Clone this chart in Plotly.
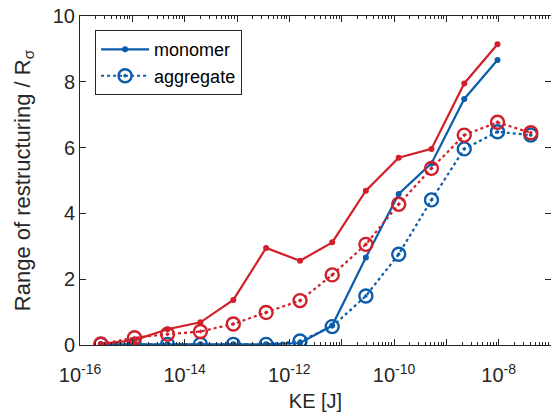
import plotly.graph_objects as go

ke = [2.5e-16, 1.1e-15, 4.7e-15, 2.0e-14, 8.5e-14, 3.6e-13, 1.6e-12,
      6.6e-12, 2.9e-11, 1.23e-10, 5.2e-10, 2.2e-9, 9.5e-9, 4.1e-8]

mono_blue = [0.02, 0.02, 0.02, 0.02, 0.02, 0.02, 0.06, 0.59, 2.66, 4.59, 5.52, 7.48, 8.66]
mono_red = [0.03, 0.15, 0.48, 0.69, 1.37, 2.95, 2.56, 3.12, 4.69, 5.69, 5.96, 7.95, 9.14]
agg_blue = [0.02, 0.02, 0.02, 0.02, 0.02, 0.02, 0.12, 0.56, 1.49, 2.76, 4.41, 5.96, 6.48, 6.38]
agg_red = [0.03, 0.22, 0.33, 0.41, 0.64, 0.99, 1.35, 2.13, 3.06, 4.28, 5.37, 6.38, 6.77, 6.45]

decades = list(range(-16, -6))
tick_vals = [10.0 ** d for d in decades]
tick_text = [f"10<sup>{d}</sup>" if d % 2 == 0 and d <= -8 else "" for d in decades]
minor_vals = [m * 10.0 ** d for d in decades[:-1] for m in range(2, 10)]

BLUE = "#0B5DAB"
RED = "#D1202A"
TXT = "#262626"

fig = go.Figure()
fig.add_trace(go.Scatter(x=ke[:len(mono_blue)], y=mono_blue, mode="lines+markers", name="monomer",
                         line=dict(color=BLUE, width=2.2), marker=dict(symbol="circle", size=6, color=BLUE)))
fig.add_trace(go.Scatter(x=ke, y=agg_blue, mode="lines+markers", name="aggregate",
                         line=dict(color=BLUE, width=2.2, dash="dot"),
                         marker=dict(symbol="circle-open-dot", size=13, color=BLUE, line=dict(width=2.4))))
fig.add_trace(go.Scatter(x=ke[:len(mono_red)], y=mono_red, mode="lines+markers", showlegend=False,
                         line=dict(color=RED, width=2.2), marker=dict(symbol="circle", size=6, color=RED)))
fig.add_trace(go.Scatter(x=ke, y=agg_red, mode="lines+markers", showlegend=False,
                         line=dict(color=RED, width=2.2, dash="dot"),
                         marker=dict(symbol="circle-open-dot", size=13, color=RED, line=dict(width=2.4))))

fig.update_layout(
    width=551, height=415,
    margin=dict(l=80, r=0, t=16, b=70),
    paper_bgcolor="white", plot_bgcolor="white",
    font=dict(family="Liberation Sans, Arial, sans-serif", size=20, color=TXT),
    showlegend=True,
    legend=dict(x=0.032, y=0.957, xanchor="left", yanchor="top",
                bordercolor=TXT, borderwidth=1, bgcolor="white",
                font=dict(size=18, color="black"), itemwidth=48, tracegroupgap=0),
)
fig.update_xaxes(type="log", range=[-16, -7], tickmode="array", tickvals=tick_vals, ticktext=tick_text,
                 ticks="inside", ticklen=6, tickcolor=TXT, showline=True, linecolor=TXT, linewidth=1,
                 mirror="ticks", showgrid=False, zeroline=False, ticklabelstandoff=12,
                 minor=dict(ticks="inside", ticklen=3, tickcolor=TXT, tickmode="array",
                            tickvals=minor_vals, showgrid=False),
                 title=dict(text="KE [J]", standoff=8, font=dict(size=20)),
                 tickfont=dict(size=20))
fig.update_yaxes(range=[0, 10], dtick=2, ticks="inside", ticklen=6, tickcolor=TXT,
                 showline=True, linecolor=TXT, linewidth=1, mirror="ticks", showgrid=False, zeroline=False,
                 title=dict(text="Range of restructuring / R<sub>σ</sub>", standoff=16, font=dict(size=22)),
                 tickfont=dict(size=20))

fig.write_html("out.html")
